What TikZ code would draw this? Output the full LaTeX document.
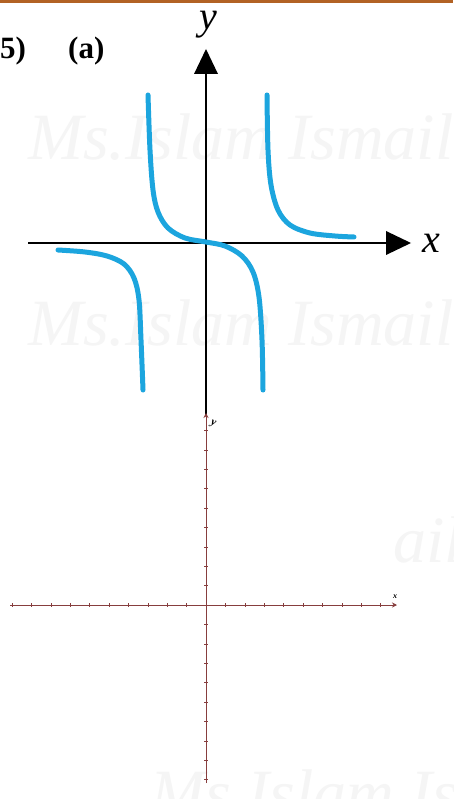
\documentclass[tikz,border=0pt]{standalone}
\usepackage{fontspec}
\setmainfont{Liberation Serif}
\usetikzlibrary{arrows.meta}
\definecolor{topbar}{RGB}{178,98,36}
\definecolor{curveblue}{RGB}{28,165,222}
\definecolor{gridred}{RGB}{135,62,62}
\definecolor{wmark}{RGB}{245,245,245}
\tikzset{
  curve/.style={curveblue, line width=5pt, line cap=round},
  axisline/.style={black, line width=2pt},
  gridaxis/.style={gridred, line width=0.9pt},
  wm/.style={wmark, font=\itshape\fontsize{66}{66}\selectfont, inner sep=0pt, anchor=base west},
  axlabel/.style={font=\itshape\fontsize{40}{40}\selectfont, inner sep=0pt, anchor=base},
  numlabel/.style={font=\bfseries\fontsize{31}{31}\selectfont, inner sep=0pt, anchor=base west},
  tinylabel/.style={font=\itshape\bfseries\fontsize{11}{11}\selectfont, inner sep=0pt}
}
\begin{document}
\begin{tikzpicture}[x=1pt,y=-1pt]
\useasboundingbox (0,0) rectangle (453,799);
\fill[white] (0,0) rectangle (453,799);
\fill[topbar] (0,0) rectangle (453,3.5);
% watermarks
\node[wm] (w1) at (28,160) {Ms.Islam Ismail};
\node[wm] (w2) at (28,345) {Ms.Islam Ismail};
\node[wm] (w3) at (393,562) {ail};
\node[wm] (w4) at (150,815) {Ms.Islam Ismail};
% labels
\node[numlabel] (n5) at (0,59) {5)};
\node[numlabel] (na) at (68,59) {(a)};
\node[axlabel] (ly) at (208,30) {y};
\node[axlabel] (lx) at (431,252) {x};
% upper axes
\draw[axisline] (206,72) -- (206,416);
\fill[black] (206,49) -- (194,74) -- (218,74) -- cycle;
\draw[axisline] (28,243) -- (388,243);
\fill[black] (411,243) -- (386,231) -- (386,255) -- cycle;
% curves
\draw[curve] plot[smooth, tension=0.55] coordinates {(148,95) (150,150) (153,190) (158,212) (168,228) (185,238) (206,242) (225,246) (242,256) (253,272) (259,297) (262,340) (263,390)};
\draw[curve] plot[smooth, tension=0.55] coordinates {(267,95) (268,150) (271,185) (278,210) (290,225) (310,233) (335,236) (354,237)};
\draw[curve] plot[smooth, tension=0.55] coordinates {(58,250) (85,252) (107,256) (124,264) (134,278) (139,300) (141,340) (143,390)};
% lower grid axes
\coordinate (xl) at (10,605);
\coordinate (xr) at (397,605);
\coordinate (yt) at (206,413);
\coordinate (yb) at (206,783);
\draw[gridaxis, -{Stealth[length=5pt,width=5pt]}] (xl) -- (xr);
\draw[gridaxis] (yb) -- (206,418);
\draw[gridaxis, -{Stealth[length=5pt,width=5pt]}] (206,420) -- (yt);
\foreach \k in {-10,...,9} {
  \draw[gridaxis, line width=0.6pt] (206+19.4*\k,603) -- (206+19.4*\k,607);
}
\foreach \k in {-9,...,9} {
  \draw[gridaxis, line width=0.6pt] (204,605+19.4*\k) -- (208,605+19.4*\k);
}
\node[tinylabel, rotate=-20] (sy) at (213,424) {y};
\node[tinylabel, font=\itshape\bfseries\fontsize{8}{8}\selectfont] (sx) at (395,597) {x};
\end{tikzpicture}
\end{document}
